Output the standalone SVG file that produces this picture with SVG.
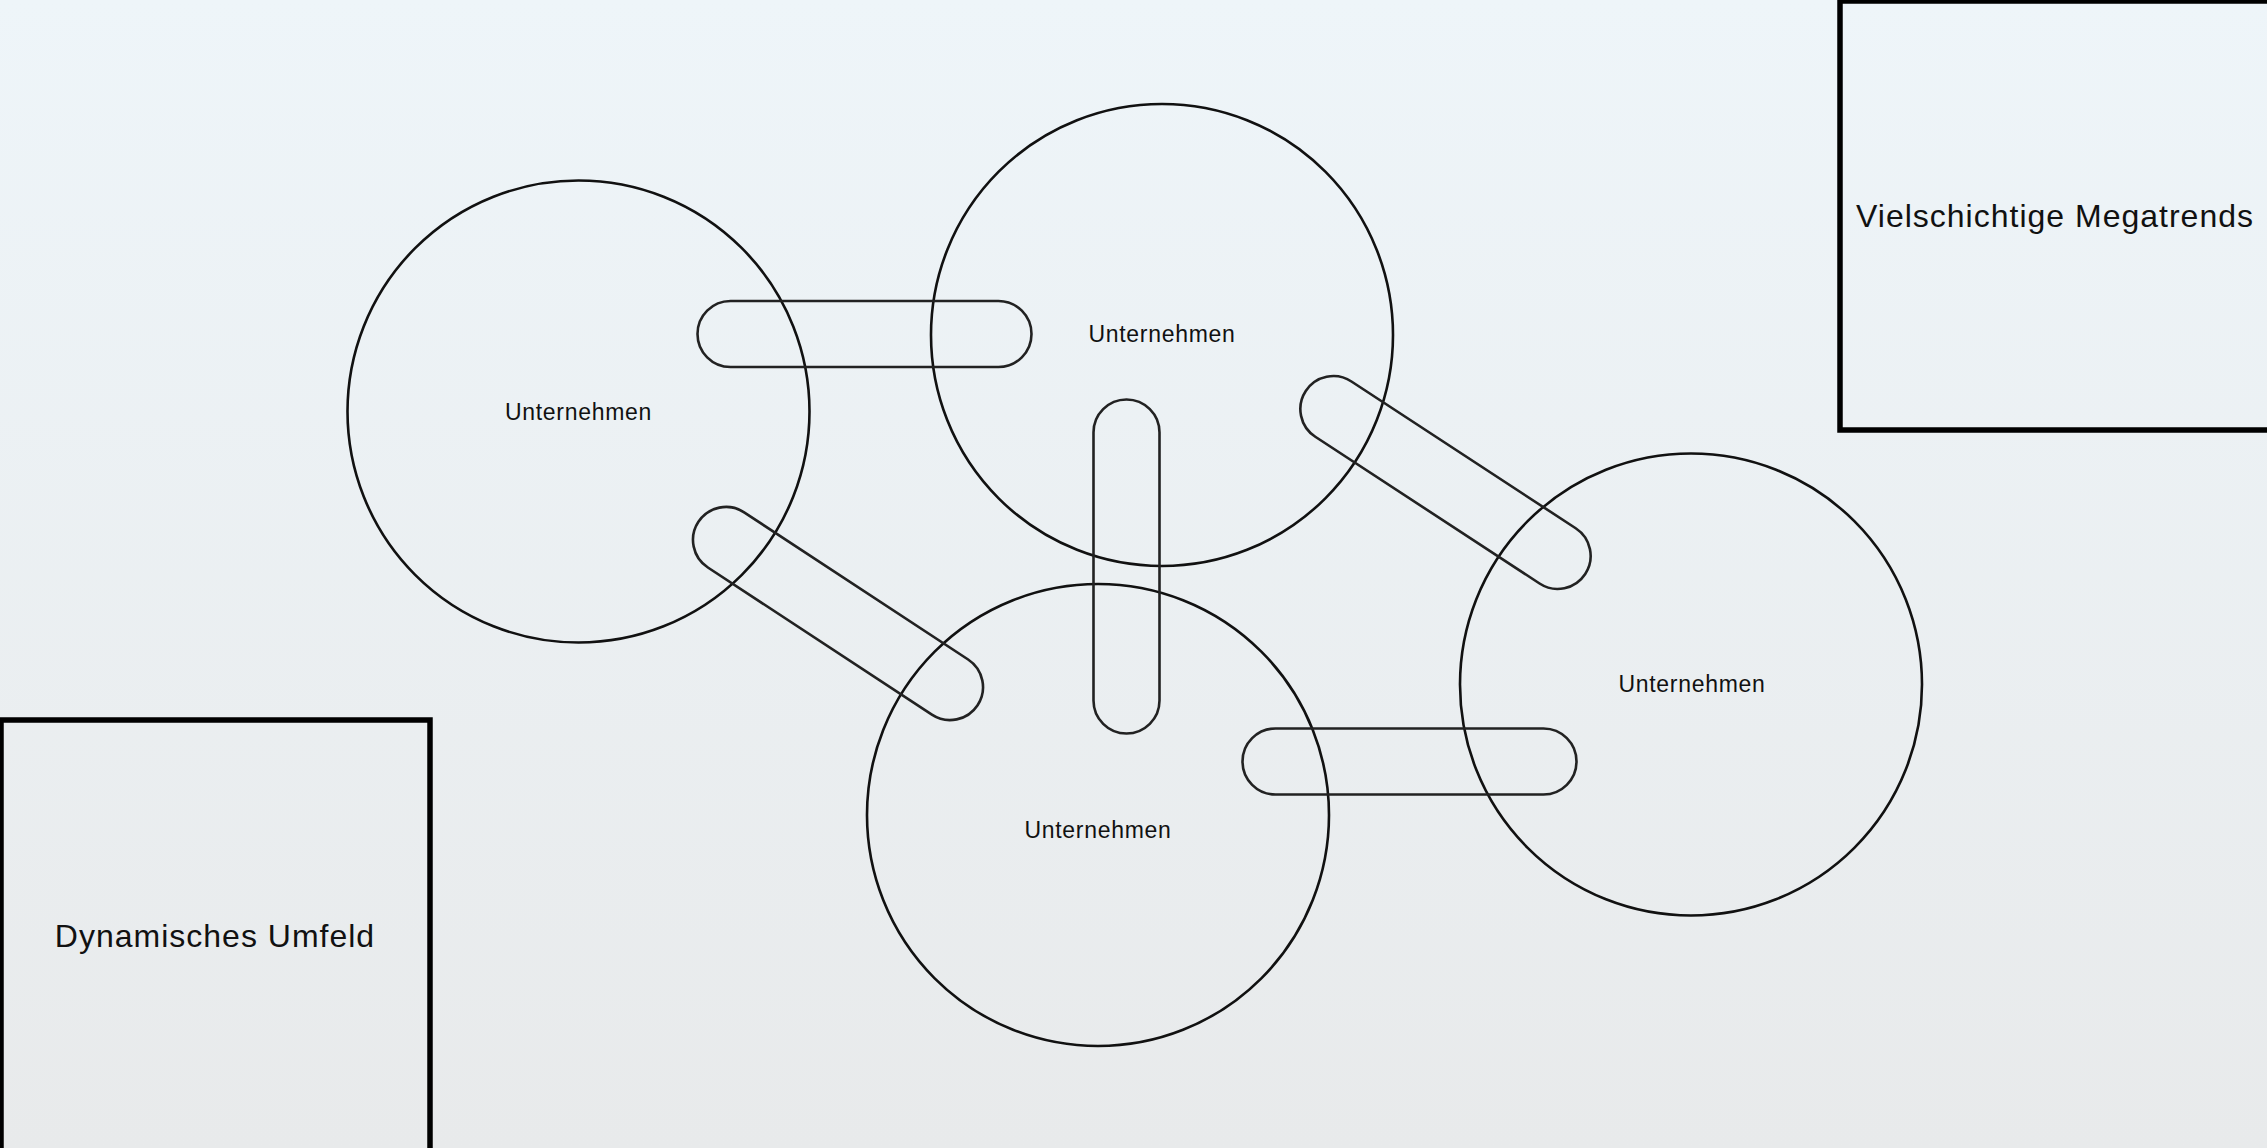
<svg xmlns="http://www.w3.org/2000/svg" width="2267" height="1148" viewBox="0 0 2267 1148">
  <defs>
    <linearGradient id="bg" x1="0" y1="0" x2="0" y2="1">
      <stop offset="0" stop-color="#EEF5F9"/>
      <stop offset="1" stop-color="#E8EAEB"/>
    </linearGradient>
  </defs>
  <style>
    .box { fill: none; stroke: #000; stroke-width: 5.5; }
    .circ { fill: none; stroke: #111; stroke-width: 2.6; }
    .pill { fill: none; stroke: #222; stroke-width: 2.6; }
    .big { font-family: "Liberation Sans", Arial, sans-serif; font-size: 32px; letter-spacing: 1px; fill: #111; text-anchor: middle; }
    .lbl { font-family: "Liberation Sans", Arial, sans-serif; font-size: 23px; letter-spacing: 0.7px; fill: #111; text-anchor: middle; }
  </style>
  <rect x="0" y="0" width="2267" height="1148" fill="url(#bg)"/>

  <g id="megatrends">
    <rect class="box" x="1840" y="1" width="440" height="429"/>
    <text class="big" x="2055" y="227">Vielschichtige Megatrends</text>
  </g>
  <g id="umfeld">
    <rect class="box" x="1" y="720" width="429" height="440"/>
    <text class="big" x="215" y="947">Dynamisches Umfeld</text>
  </g>

  <g id="u1">
    <circle class="circ" cx="578.5" cy="411.5" r="231"/>
    <text class="lbl" x="578.5" y="420">Unternehmen</text>
  </g>
  <g id="u2">
    <circle class="circ" cx="1162" cy="335" r="231"/>
    <text class="lbl" x="1162" y="342">Unternehmen</text>
  </g>
  <g id="u3">
    <circle class="circ" cx="1098" cy="815" r="231"/>
    <text class="lbl" x="1098" y="838">Unternehmen</text>
  </g>
  <g id="u4">
    <circle class="circ" cx="1691" cy="684.5" r="231"/>
    <text class="lbl" x="1692" y="692">Unternehmen</text>
  </g>

  <g id="connectors">
    <rect class="pill" x="-167" y="-33" width="334" height="66" rx="33" transform="translate(864.5 334)"/>
    <rect class="pill" x="-167" y="-33" width="334" height="66" rx="33" transform="translate(1126.5 566.5) rotate(90)"/>
    <rect class="pill" x="-167" y="-33" width="334" height="66" rx="33" transform="translate(838 613.5) rotate(33.3)"/>
    <rect class="pill" x="-167" y="-33" width="334" height="66" rx="33" transform="translate(1445.5 482.5) rotate(33.2)"/>
    <rect class="pill" x="-167" y="-33" width="334" height="66" rx="33" transform="translate(1409.5 761.5)"/>
  </g>
</svg>
